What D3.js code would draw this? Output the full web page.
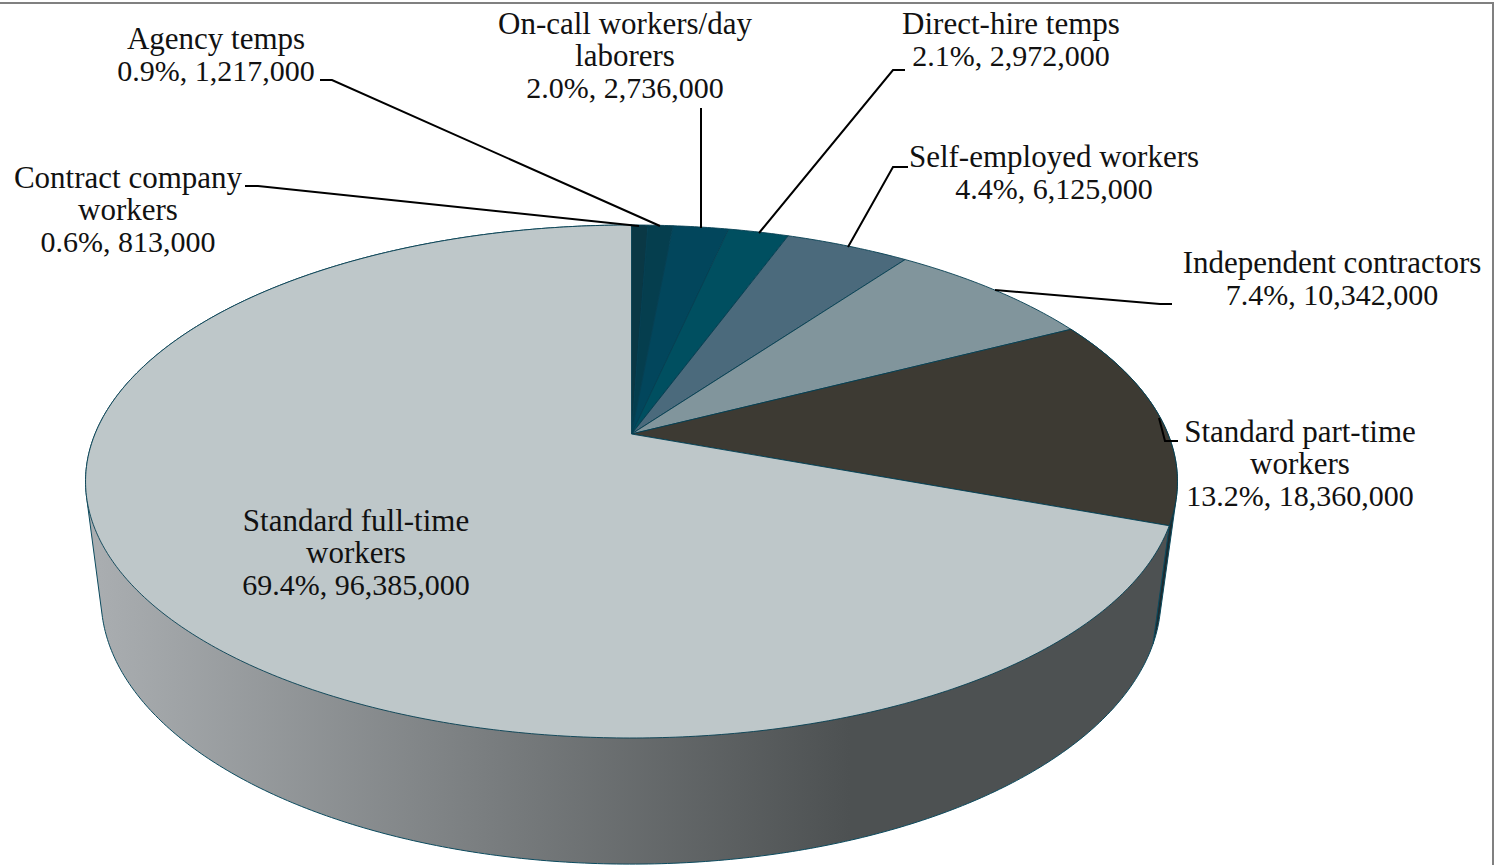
<!DOCTYPE html>
<html>
<head>
<meta charset="utf-8">
<script src="https://cdn.jsdelivr.net/npm/d3@7"></script>
<style>
html,body{margin:0;padding:0;background:#fff;overflow:hidden}
svg{display:block}
text{font-family:"Liberation Serif",serif;font-size:31px;fill:#111}
tspan.figures{font-size:30px}
</style>
</head>
<body>
<svg id="chart" width="1500" height="865"></svg>
<script>
// Employment arrangements, clockwise from twelve o'clock
const categories = [
  ["Contract company", "workers"],
  ["Agency temps"],
  ["On-call workers/day", "laborers"],
  ["Direct-hire temps"],
  ["Self-employed workers"],
  ["Independent contractors"],
  ["Standard part-time", "workers"],
  ["Standard full-time", "workers"]
];
const workers = [813000, 1217000, 2736000, 2972000, 6125000, 10342000, 18360000, 96385000];
const sliceColors = ["#0a3845", "#053e4e", "#02465c", "#004f60", "#4b6a7c", "#81959c", "#3d3a33", "#bec7c9"];

// Label anchor (centre, first baseline) for each category
const labelX = [128, 216, 625, 1011, 1054, 1332, 1300, 356];
const labelY = [187.5, 48.5, 33.5, 33.5, 166.5, 272.5, 441.5, 530.5];

// Leader lines running from each label to its slice
const leaders = [
  [[245,186],[258,186],[639,226]],
  [[320,80],[332,80],[660,226]],
  [[701,108],[701,228]],
  [[905,70],[893,70],[759,233]],
  [[908,167],[893,167],[848,247]],
  [[1172,304],[1160,304],[995,290]],
  [[1178,441],[1165,441],[1159,418]]
];

const svg = d3.select("#chart");
const total = d3.sum(workers);
const fmtPct = d3.format(".1%");
const fmtNum = d3.format(",");

// Perspective view of a tilted disc: unit circle (u,v) onto the page
const tilt = 0.1852;
const topDisc = {cx: 631.5, cy: 434, kx: 536.5, ky: 247.7};
const baseDisc = {cx: 631, cy: 548.7, kx: 520.8, ky: 257};
const project = (disc, a) => {
  const u = Math.sin(a), v = -Math.cos(a), w = 1 - tilt * v;
  return [disc.cx + disc.kx * u / w, disc.cy + disc.ky * v / w];
};
const arcPoints = (disc, a0, a1) => {
  const n = Math.max(2, Math.ceil((a1 - a0) / 0.01));
  const s = d3.scaleLinear().domain([0, n]).range([a0, a1]);
  return d3.range(n + 1).map(i => project(disc, s(i)));
};
const line = d3.line();

const slices = d3.pie().sort(null).value(d => d)(workers);

const grad = svg.append("defs").append("linearGradient")
  .attr("id", "wall").attr("gradientUnits", "userSpaceOnUse")
  .attr("x1", 100).attr("x2", 850).attr("y1", 0).attr("y2", 0);
grad.append("stop").attr("offset", 0).attr("stop-color", "#a9adb0");
grad.append("stop").attr("offset", 1).attr("stop-color", "#4d5152");

// Frame edges along the top and right
svg.append("path").attr("d", line([[0, 3], [1493, 3], [1493, 865]]))
  .attr("fill", "none").attr("stroke", "#808080").attr("stroke-width", 2);

// Side walls of the two slices that face the viewer
const wallOf = (i, fill) => {
  const s = slices[i];
  const hull = d3.polygonHull(arcPoints(topDisc, s.startAngle, s.endAngle)
    .concat(arcPoints(baseDisc, s.startAngle, s.endAngle)));
  svg.append("path").attr("d", line(hull) + "Z")
    .attr("fill", fill).attr("stroke", "#0b4a5e").attr("stroke-width", 1);
};
wallOf(6, "#1c2b30");
wallOf(7, "url(#wall)");

// Top face
svg.append("g").selectAll("path").data(slices).join("path")
  .attr("d", d => line([[topDisc.cx, topDisc.cy], ...arcPoints(topDisc, d.startAngle, d.endAngle)]) + "Z")
  .attr("fill", (d, i) => sliceColors[i])
  .attr("stroke", "#063f52").attr("stroke-width", 0.9).attr("stroke-linejoin", "round");

// Leaders
svg.append("g").selectAll("path").data(leaders).join("path")
  .attr("d", d => line(d)).attr("fill", "none")
  .attr("stroke", "#000").attr("stroke-width", 2);

// Labels: name rows, then a share and head-count row
const labels = svg.append("g").selectAll("text").data(categories).join("text")
  .attr("text-anchor", "middle")
  .attr("x", (d, i) => labelX[i]).attr("y", (d, i) => labelY[i]);
labels.each(function(d, i) {
  const rows = d.concat(fmtPct(workers[i] / total) + ", " + fmtNum(workers[i]));
  d3.select(this).selectAll("tspan").data(rows).join("tspan")
    .attr("class", (r, k) => k === rows.length - 1 ? "figures" : null)
    .attr("x", labelX[i]).attr("dy", (r, k) => k ? 32.2 : 0).text(r => r);
});
</script>
</body>
</html>
